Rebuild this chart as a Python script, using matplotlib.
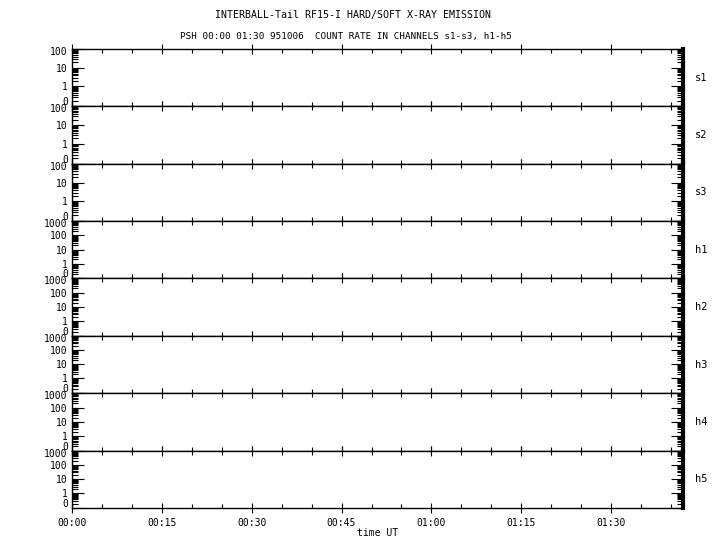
import numpy as np
import matplotlib.pyplot as plt
from matplotlib.transforms import ScaledTranslation

plt.rcParams['font.family'] = ['DejaVu Sans Mono']
plt.rcParams['font.size'] = 7

# channels and their y ranges (counts)
channels = ['s1', 's2', 's3', 'h1', 'h2', 'h3', 'h4', 'h5']
ymax = [100, 100, 100, 1000, 1000, 1000, 1000, 1000]

# time axis, minutes after 00:00 UT
t_start, t_end = 0, 102
xticks_major = [0, 15, 30, 45, 60, 75, 90]
xtick_labels = ['00:00', '00:15', '00:30', '00:45', '01:00', '01:15', '01:30']
xticks_minor = list(range(0, 103, 5))

title1 = 'INTERBALL-Tail RF15-I HARD/SOFT X-RAY EMISSION'
title2 = 'PSH 00:00 01:30 951006  COUNT RATE IN CHANNELS s1-s3, h1-h5'


# log scale with zero shown at the bottom
def fwd(y):
    return np.log10(np.clip(y, 0, None) + 0.1)


def inv(v):
    return 10 ** v - 0.1


fig, axes = plt.subplots(8, 1, sharex=True, figsize=(7.2, 5.5), dpi=100)
fig.subplots_adjust(left=0.1, right=0.9486, top=0.911, bottom=0.0764, hspace=0)

for ax, ch, ym in zip(axes, channels, ymax):
    ax.set_yscale('function', functions=(fwd, inv))
    ax.set_ylim(0, ym)
    ax.set_xlim(t_start, t_end)

    major = [0, 1, 10, 100, 1000]
    major = [m for m in major if m <= ym]
    ax.set_yticks(major)
    ax.set_yticklabels([str(m) for m in major])
    minor = []
    dec = 0.1
    while dec < ym:
        minor += [dec * k for k in range(1, 10)]
        dec *= 10
    ax.set_yticks(minor, minor=True)

    ax.set_xticks(xticks_major)
    ax.set_xticks(xticks_minor, minor=True)

    ax.tick_params(axis='y', which='major', direction='in', length=8.5,
                   width=0.8, left=True, right=True, pad=3)
    ax.tick_params(axis='y', which='minor', direction='in', length=4.3,
                   width=0.8, left=True, right=True)
    ax.tick_params(axis='x', which='major', direction='inout', length=7,
                   width=0.8, top=True, bottom=True, pad=4)
    ax.tick_params(axis='x', which='minor', direction='in', length=3,
                   width=0.8, top=True, bottom=True)

    # "0" sits a bit above the panel edge, the top label a bit below it
    labels = ax.get_yticklabels()
    labels[0].set_transform(labels[0].get_transform() +
                            ScaledTranslation(0, 5 / 100, fig.dpi_scale_trans))
    labels[-1].set_transform(labels[-1].get_transform() +
                             ScaledTranslation(0, -2 / 100, fig.dpi_scale_trans))

    for s in ['left', 'top', 'bottom']:
        ax.spines[s].set_linewidth(1.0)
    ax.spines['right'].set_linewidth(3.0)

    ax.text(1.02, 0.5, ch, transform=ax.transAxes, va='center', ha='left',
            fontsize=7.5)

axes[-1].set_xticklabels(xtick_labels)
axes[-1].set_xlabel('time UT', labelpad=0)

fig.text(0.49, 1 - 15 / 550, title1, ha='center', va='center', fontsize=7.2)
fig.text(0.481, 1 - 37 / 550, title2, ha='center', va='center', fontsize=6.7)

fig.savefig('out.png', dpi=100)
